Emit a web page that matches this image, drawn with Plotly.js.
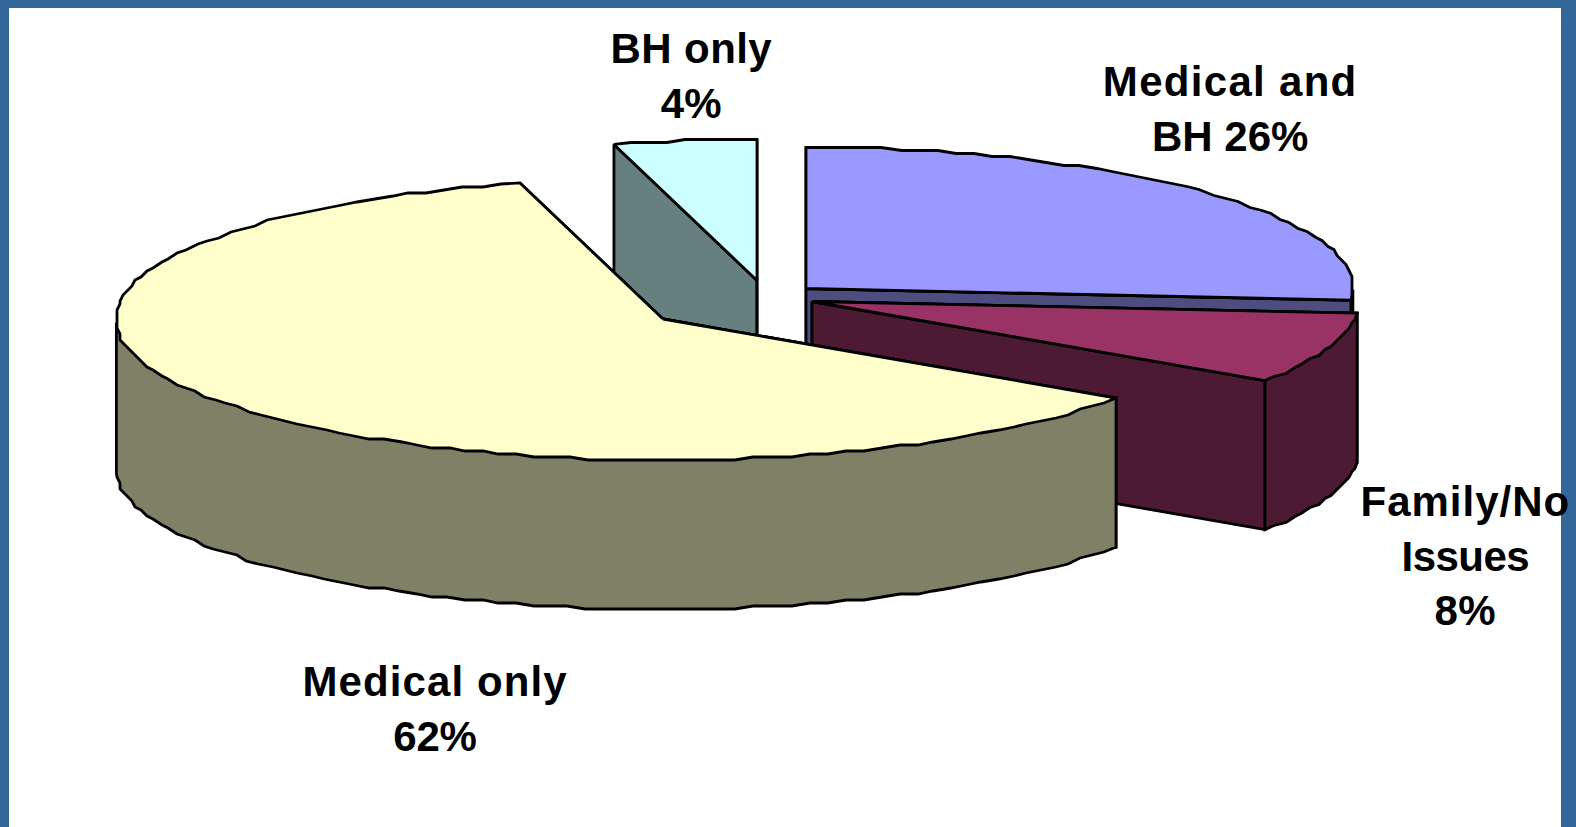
<!DOCTYPE html>
<html>
<head>
<meta charset="utf-8">
<script src="https://cdn.plot.ly/plotly-3.0.1.min.js"></script>
<style>
html,body{margin:0;padding:0;background:#fff;overflow:hidden}
#chart{width:1576px;height:827px}
g.annotation[data-index="0"] tspan.line:nth-child(1){letter-spacing:1.3px}
g.annotation[data-index="0"] tspan.line:nth-child(2){letter-spacing:0}
g.annotation[data-index="1"] tspan.line:nth-child(1){letter-spacing:1px}
g.annotation[data-index="1"] tspan.line:nth-child(2){letter-spacing:-.5px}
g.annotation[data-index="1"] tspan.line:nth-child(3){letter-spacing:.5px}
g.annotation[data-index="2"] tspan.line:nth-child(1){letter-spacing:1.1px}
g.annotation[data-index="2"] tspan.line:nth-child(2){letter-spacing:-.2px}
g.annotation[data-index="3"] tspan.line:nth-child(1){letter-spacing:.4px}
g.annotation[data-index="3"] tspan.line:nth-child(2){letter-spacing:.2px}
</style>
</head>
<body>
<div id="chart"></div>
<script>
// ---- data (pie order: clockwise from 12 o'clock) ----
const categories = ["Medical and BH", "Family/No Issues", "Medical only", "BH only"];
const values = [26, 8, 62, 4];
const labelTexts = ["Medical and<br>BH 26%", "Family/No<br>Issues<br>8%", "Medical only<br>62%", "BH only<br>4%"];

// ---- styles ----
const topColors = ["#9999FF", "#993366", "#FFFFCC", "#CCFFFF"];
const sideColors = ["#4D4D80", "#4D1A33", "#808066", "#668080"];
const frameColor = "#336699";

// ---- 3D pie geometry, in page pixels ----
const radiusX = 547, radiusY = 141, depth = 149;
const explodedCentres = [[806, 288.5], [812, 301.5], [663, 319], [757, 280.5]];
const labelAnchors = [[1230, 108.5], [1465, 556], [435.5, 708.5], [691.5, 76]];
const outlineGrid = 3;   // the outline of the original is drawn on a coarse pixel grid
const sampleStep = 2;
const rad = d => d * Math.PI / 180;

// slight perspective skew of the projected angle (moves points along the rim only)
const skew = a => a + 2.2 * Math.pow(Math.sin(rad(a / 2)), 2) + 3.2 * Math.min(0, Math.sin(rad(a)));
const snap = v => Math.round(v / outlineGrid) * outlineGrid;

function rimPoint(c, a, down, coarse) {
  const t = rad(skew(a));
  const dx = radiusX * Math.sin(t), dy = -radiusY * Math.cos(t);
  return [c[0] + (coarse ? snap(dx) : dx), c[1] + (coarse ? snap(dy) : dy) + (down ? depth : 0)];
}
function arc(c, a0, a1, down) {
  const n = Math.max(1, Math.ceil(Math.abs(a1 - a0) / sampleStep));
  const pts = [];
  for (let i = 0; i <= n; i++) {
    const ends = i === 0 || i === n;
    pts.push(rimPoint(c, a0 + (a1 - a0) * i / n, down, !ends));
  }
  return pts;
}
function poly(pts, fill, name) {
  const closed = pts.concat([pts[0]]);
  return {
    type: "scatter", mode: "lines", name: name, showlegend: false, hoverinfo: "skip",
    x: closed.map(p => p[0]), y: closed.map(p => p[1]),
    fill: "toself", fillcolor: fill,
    line: {color: "#000", width: 2.8, simplify: false}
  };
}

function radialFace(c, a, fill, name) {
  const e = rimPoint(c, a, false), b = rimPoint(c, a, true);
  return poly([c, e, b, [c[0], c[1] + depth]], fill, name);
}

function sliceTraces(i, a0, a1) {
  const c = explodedCentres[i], side = sideColors[i], out = [];
  // radial walls: hidden one first, visible one afterwards
  const visible = a => Math.cos(rad(a)) <= 1e-9;
  const walls = [[a0, a0 - 90], [a1, a1 + 90]];
  walls.filter(w => !visible(w[1])).forEach(w => out.push(radialFace(c, w[0], side, categories[i] + " wall")));
  walls.filter(w => visible(w[1])).forEach(w => out.push(radialFace(c, w[0], side, categories[i] + " wall")));
  // outer wall: only the part on the front half of the pie; its upper side runs under the top face
  const f0 = Math.max(a0, 90), f1 = Math.min(a1, 270);
  if (f1 > f0) {
    out.push(poly([c, rimPoint(c, f0, false)].concat(arc(c, f0, f1, true), [rimPoint(c, f1, false)]), side, categories[i] + " rim"));
  }
  // top face
  out.push(poly([c].concat(arc(c, a0, a1, false)), topColors[i], categories[i]));
  return out;
}

// slices from the values; painted back to front
const total = values.reduce((s, v) => s + v, 0);
let running = 0;
const spans = values.map(v => {
  const a0 = running / total * 360;
  running += v;
  return [a0, running / total * 360];
});
const paintOrder = [3, 0, 1, 2];
const traces = [];
paintOrder.forEach(i => traces.push(...sliceTraces(i, spans[i][0], spans[i][1])));

const annotations = labelTexts.map((t, i) => ({
  x: labelAnchors[i][0], y: labelAnchors[i][1], xref: "x", yref: "y",
  text: "<b>" + t + "</b>", showarrow: false, xanchor: "center", yanchor: "middle", align: "center",
  font: {family: "Liberation Sans, Arial, sans-serif", size: 42, color: "#000"}
}));

const hidden = {visible: false, showgrid: false, zeroline: false, fixedrange: true};
Plotly.newPlot("chart", traces, {
  width: 1576, height: 827, showlegend: false,
  margin: {l: 9, r: 15, t: 8, b: 0, pad: 0},
  paper_bgcolor: frameColor, plot_bgcolor: "#FFFFFF",
  xaxis: Object.assign({range: [9, 1561]}, hidden),
  yaxis: Object.assign({range: [827, 8]}, hidden),
  annotations: annotations
}, {displayModeBar: false, staticPlot: true});
</script>
</body>
</html>
